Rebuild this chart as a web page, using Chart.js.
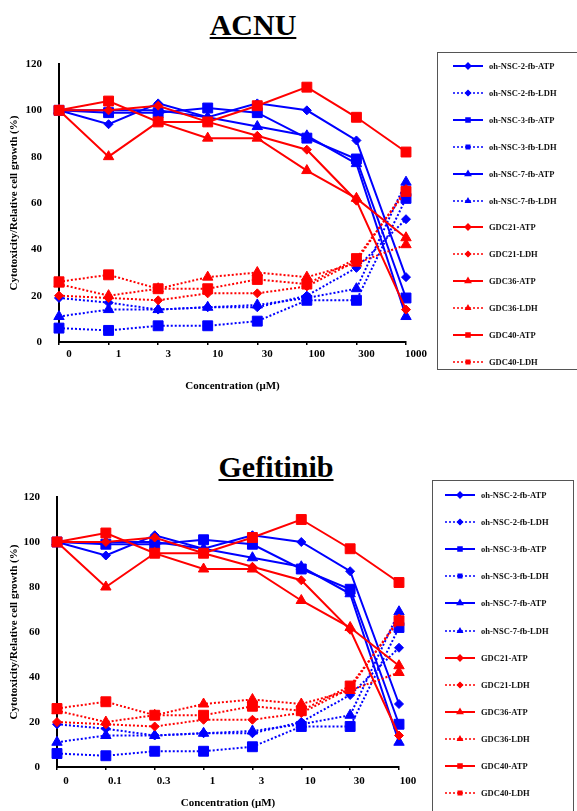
<!DOCTYPE html>
<html>
<head>
<meta charset="utf-8">
<script src="https://cdn.jsdelivr.net/npm/chart.js@4.4.1/dist/chart.umd.min.js"></script>
<style>
  body { margin: 0; background: #fff; width: 577px; height: 811px; overflow: hidden; position: relative;
         font-family: "Liberation Serif", "Times New Roman", serif; }
  .title { position: absolute; font-weight: bold; font-size: 30px; line-height: 30px; white-space: nowrap;
           text-decoration: underline; text-decoration-thickness: 2px; text-underline-offset: 2px;
           transform: translateX(-50%); }
  canvas { position: absolute; left: 0; }
  .legend { position: absolute; border: 1px solid #555; background: #fff; box-sizing: border-box; }
  .legend .item { position: absolute; height: 12px; display: flex; align-items: center; white-space: nowrap;
                  font-size: 8.5px; font-weight: bold; color: #111; }
  .legend .item canvas { position: static; margin-right: 6px; }
</style>
</head>
<body>

<div class="title" style="left:253px;top:10px">ACNU</div>
<canvas id="acnu" width="577" height="360" style="top:40px"></canvas>
<div class="legend" id="acnuLegend" style="left:437px;top:52px;width:145px;height:318px"></div>

<div class="title" style="left:276px;top:452px">Gefitinib</div>
<canvas id="gef" width="577" height="341" style="top:470px"></canvas>
<div class="legend" id="gefLegend" style="left:432px;top:480px;width:142px;height:345px"></div>

<script>
const FONT = '"Liberation Serif", "Times New Roman", serif';
const BLUE = '#0000ff';
const RED = '#ff0000';

// concentrations (uM)
const acnuDoses = ['0', '1', '3', '10', '30', '100', '300', '1000'];
const gefDoses = ['0', '0.1', '0.3', '1', '3', '10', '30', '100'];

const seriesNames = [
  'oh-NSC-2-fb-ATP', 'oh-NSC-2-fb-LDH',
  'oh-NSC-3-fb-ATP', 'oh-NSC-3-fb-LDH',
  'oh-NSC-7-fb-ATP', 'oh-NSC-7-fb-LDH',
  'GDC21-ATP', 'GDC21-LDH',
  'GDC36-ATP', 'GDC36-LDH',
  'GDC40-ATP', 'GDC40-LDH'
];

// % values, same in both panels
const nsc2Atp  = [100, 94, 103, 97, 103, 100, 87, 28];
const nsc2Ldh  = [19, 17, 14, 15, 15, 20, 32, 53];
const nsc3Atp  = [100, 99, 99, 101, 99, 88, 79, 19];
const nsc3Ldh  = [6, 5, 7, 7, 9, 18, 18, 62];
const nsc7Atp  = [100, 100, 100, 97, 93, 89, 77, 11];
const nsc7Ldh  = [11, 14, 14, 15, 16, 19, 23, 69];
const gdc21Atp = [100, 100, 102, 95, 89, 83, 61, 14];
const gdc21Ldh = [20, 19, 18, 21, 21, 24, 35, 66];
const gdc36Atp = [100, 80, 95, 88, 88, 74, 62, 45];
const gdc36Ldh = [25, 20, 23, 28, 30, 28, 34, 42];
const gdc40Atp = [100, 104, 95, 95, 102, 110, 97, 82];
const gdc40Ldh = [26, 29, 23, 23, 27, 25, 36, 65];

const seriesData = [nsc2Atp, nsc2Ldh, nsc3Atp, nsc3Ldh, nsc7Atp, nsc7Ldh,
                    gdc21Atp, gdc21Ldh, gdc36Atp, gdc36Ldh, gdc40Atp, gdc40Ldh];

const yTickStep = 20;
const yMax = 120;

const shapes = ['rectRot', 'rectRot', 'rect', 'rect', 'triangle', 'triangle',
                'rectRot', 'rectRot', 'triangle', 'triangle', 'rect', 'rect'];
const radius = { rect: 7, rectRot: 4.5, triangle: 6 };

function makeDatasets() {
  return seriesData.map((d, i) => {
    const col = i < 6 ? BLUE : RED;
    const dotted = i % 2 === 1;
    return {
      label: seriesNames[i],
      data: d,
      borderColor: col,
      backgroundColor: col,
      borderWidth: 2,
      borderDash: dotted ? [2, 2] : [],
      pointStyle: shapes[i],
      pointRadius: radius[shapes[i]],
      pointBorderWidth: 1,
      pointBackgroundColor: col,
      pointBorderColor: col,
      tension: 0,
      fill: false,
      order: 11 - i   // last series drawn on top
    };
  });
}

function buildChart(id, doses, o) {
  const ctx = document.getElementById(id).getContext('2d');
  return new Chart(ctx, {
    type: 'line',
    data: { labels: doses, datasets: makeDatasets() },
    options: {
      responsive: false,
      animation: false,
      devicePixelRatio: 1,
      layout: { padding: { left: 0, top: o.padTop, right: o.padRight, bottom: 0 } },
      plugins: { legend: { display: false }, tooltip: { enabled: false } },
      scales: {
        x: {
          type: 'category',
          offset: false,
          ticks: { color: '#000', font: { family: FONT, size: 11, weight: 'bold' },
                   padding: o.xPad, labelOffset: o.labelOffset, maxRotation: 0, autoSkip: false },
          grid: { display: true, drawOnChartArea: false, drawTicks: true, tickLength: 3, color: '#000', lineWidth: 1.5 },
          border: { display: true, color: '#000', width: 2 },
          title: { display: true, text: 'Concentration (μM)', color: '#000',
                   font: { family: FONT, size: 11, weight: 'bold' },
                   padding: { top: 2, bottom: o.xTitleBottom } },
          afterFit: s => { s.height = o.xHeight; }
        },
        y: {
          min: 0, max: yMax,
          ticks: { stepSize: yTickStep, color: '#000', font: { family: FONT, size: 11, weight: 'bold' }, padding: 9 },
          grid: { display: false },
          border: { display: true, color: '#000', width: 2 },
          title: { display: true, text: 'Cytotoxicity/Relative cell growth (%)', color: '#000',
                   font: { family: FONT, size: 11, weight: 'bold' }, padding: { top: 8, bottom: 0 } },
          afterFit: s => { s.width = o.yWidth; }
        }
      }
    }
  });
}

// html legend from the chart's own legend items
function htmlLegend(chart, boxId, o) {
  const box = document.getElementById(boxId);
  const items = chart.options.plugins.legend.labels.generateLabels(chart)
    .sort((a, b) => a.datasetIndex - b.datasetIndex);
  items.forEach((it, i) => {
    const ds = chart.data.datasets[it.datasetIndex];
    const row = document.createElement('div');
    row.className = 'item';
    row.style.left = o.left + 'px';
    row.style.top = (o.top + i * o.step - 6) + 'px';
    const c = document.createElement('canvas');
    c.width = 30; c.height = 10;
    const g = c.getContext('2d');
    g.strokeStyle = ds.borderColor;
    g.lineWidth = ds.borderDash.length ? 1.5 : 2;
    g.setLineDash(ds.borderDash);
    g.beginPath(); g.moveTo(0, 5); g.lineTo(30, 5); g.stroke();
    g.setLineDash([]);
    g.fillStyle = ds.borderColor;
    Chart.helpers.drawPoint(g, { pointStyle: ds.pointStyle, radius: 2.5, borderWidth: 1 }, 15, 5);
    g.fill();
    row.appendChild(c);
    const t = document.createElement('span');
    t.textContent = it.text;
    row.appendChild(t);
    box.appendChild(row);
  });
}

const acnuChart = buildChart('acnu', acnuDoses, {
  padTop: 24, padRight: 171, yWidth: 59, xHeight: 58, xPad: 3, labelOffset: 10, xTitleBottom: 7
});
const gefChart = buildChart('gef', gefDoses, {
  padTop: 27, padRight: 178, yWidth: 57, xHeight: 44, xPad: 5, labelOffset: 9, xTitleBottom: 1
});

htmlLegend(acnuChart, 'acnuLegend', { left: 15, top: 13, step: 26.9 });
htmlLegend(gefChart, 'gefLegend', { left: 12, top: 14, step: 27.1 });
</script>
</body>
</html>
